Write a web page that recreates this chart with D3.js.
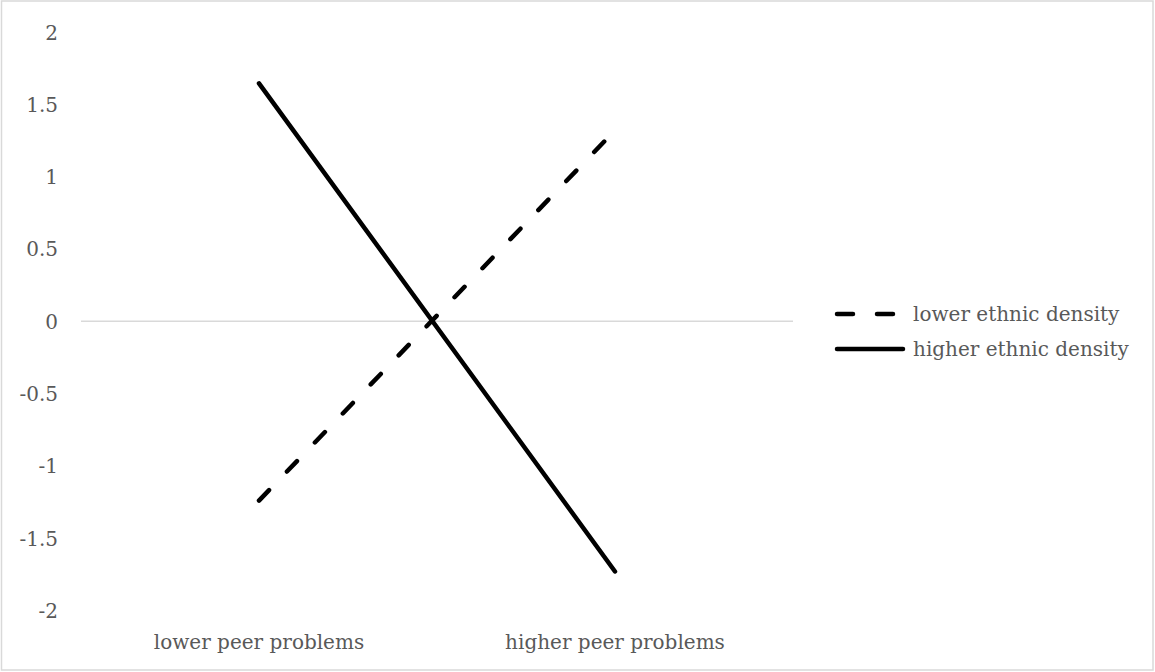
<!DOCTYPE html>
<html>
<head>
<meta charset="utf-8">
<script src="https://cdn.jsdelivr.net/npm/d3@7"></script>
<style>
  body { margin: 0; background: #fff; }
  text { font-family: "DejaVu Serif", serif; fill: #595959; }
</style>
</head>
<body>
<div id="chart"></div>
<script>
// values
var categories = ["lower peer problems", "higher peer problems"];
var seriesNames = ["lower ethnic density", "higher ethnic density"];
var lowerDensity = [-1.24, 1.32];
var higherDensity = [1.645, -1.73];
var yTicks = [-2, -1.5, -1, -0.5, 0, 0.5, 1, 1.5, 2];

var width = 1155, height = 672;
var fontSize = "20px";

var svg = d3.select("#chart")
    .append("svg")
    .attr("width", width)
    .attr("height", height);

// outer frame
svg.append("rect")
    .attr("x", 1.5)
    .attr("y", 1)
    .attr("width", 1151.5)
    .attr("height", 669)
    .style("fill", "none")
    .style("stroke", "#d9d9d9")
    .style("stroke-width", 1.5);

var x = d3.scaleBand()
    .domain(categories)
    .range([81, 793]);

var y = d3.scaleLinear()
    .domain([-2, 2])
    .range([610.5, 32]);

// y axis labels, no line
var yAxis = d3.axisLeft(y)
    .tickValues(yTicks)
    .tickSize(0)
    .tickPadding(0)
    .tickFormat(function(d){ return d3.format("")(d).replace("−", "-"); });

var ya = svg.append("g")
    .attr("transform", "translate(58,0)")
    .call(yAxis);
ya.select(".domain").remove();
ya.selectAll("text")
    .attr("dy", "0.35em")
    .style("font-size", fontSize)
    .style("font-family", "DejaVu Serif, serif")
    .style("fill", "#595959");

// zero line
svg.append("line")
    .attr("x1", 81)
    .attr("x2", 793)
    .attr("y1", y(0))
    .attr("y2", y(0))
    .style("stroke", "#d9d9d9")
    .style("stroke-width", 1.5);

// category labels
var xAxis = d3.axisBottom(x).tickSize(0).tickPadding(0);
var xa = svg.append("g")
    .attr("transform", "translate(0,642)")
    .call(xAxis);
xa.select(".domain").remove();
xa.selectAll("text")
    .attr("dy", "0.35em")
    .style("font-size", fontSize)
    .style("font-family", "DejaVu Serif, serif")
    .style("fill", "#595959");

var line = d3.line()
    .x(function(d, i){ return x(categories[i]) + x.bandwidth() / 2; })
    .y(function(d){ return y(d); });

svg.append("path")
    .datum(lowerDensity)
    .attr("d", line)
    .style("fill", "none")
    .style("stroke", "#000")
    .style("stroke-width", 4.5)
    .style("stroke-linecap", "round")
    .style("stroke-dasharray", "14.5,25.8");

svg.append("path")
    .datum(higherDensity)
    .attr("d", line)
    .style("fill", "none")
    .style("stroke", "#000")
    .style("stroke-width", 4.5)
    .style("stroke-linecap", "round");

// legend
var legend = svg.append("g");
var legY = [314, 349];
var legLen = [60, 70];

legend.selectAll("line")
    .data(seriesNames)
    .enter()
    .append("line")
    .attr("x1", 837)
    .attr("x2", function(d, i){ return 837 + legLen[i] - 4; })
    .attr("y1", function(d, i){ return legY[i]; })
    .attr("y2", function(d, i){ return legY[i]; })
    .style("stroke", "#000")
    .style("stroke-width", 4.5)
    .style("stroke-linecap", "round")
    .style("stroke-dasharray", function(d, i){ return i == 0 ? "16,24" : null; });

legend.selectAll("text")
    .data(seriesNames)
    .enter()
    .append("text")
    .text(function(d){ return d; })
    .attr("x", 913)
    .attr("y", function(d, i){ return legY[i]; })
    .attr("dy", "0.35em")
    .style("font-size", fontSize);
</script>
</body>
</html>
